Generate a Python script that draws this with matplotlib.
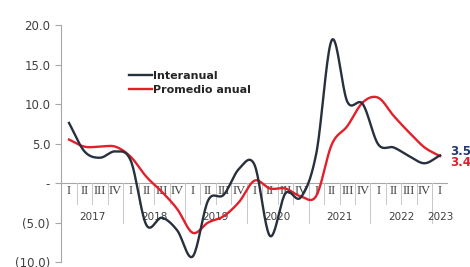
import numpy as np
import matplotlib
matplotlib.use("Agg")
import matplotlib.pyplot as plt

# quarterly values, 2017 Q1 .. 2023 Q1
years = ["2017", "2018", "2019", "2020", "2021", "2022", "2023"]
quarters = ["I", "II", "III", "IV"] * 6 + ["I"]
interanual = [7.6, 4.0, 3.2, 4.0, 2.8, -5.3, -4.4, -6.0, -9.3, -2.2, -1.5, 1.8,
              2.3, -6.7, -1.3, -1.8, 3.8, 18.1, 10.3, 10.0, 4.9, 4.5, 3.4, 2.5, 3.5]
promedio = [5.5, 4.6, 4.6, 4.6, 3.3, 0.8, -1.1, -3.3, -6.3, -5.0, -4.2, -2.4,
            0.3, -0.7, -0.7, -1.7, -1.6, 4.9, 7.2, 10.2, 10.8, 8.5, 6.4, 4.5, 3.4]
yticks = [20, 15, 10, 5, 0, -5, -10]
ylabels = ["20.0", "15.0", "10.0", "5.0", "-", "(5.0)", "(10.0)"]

c_dark = "#27303d"
c_red = "#e2202b"
c_axis = "#a6a6a6"


def smooth(y, steps=20):
    # catmull-rom, roughly what Excel's "smoothed line" does
    y = np.asarray(y, float)
    p = np.concatenate([[2 * y[0] - y[1]], y, [2 * y[-1] - y[-2]]])
    xs, ys = [], []
    for i in range(len(y) - 1):
        p0, p1, p2, p3 = p[i], p[i + 1], p[i + 2], p[i + 3]
        t = np.linspace(0, 1, steps, endpoint=False)
        v = 0.5 * (2 * p1 + (-p0 + p2) * t + (2 * p0 - 5 * p1 + 4 * p2 - p3) * t**2
                   + (-p0 + 3 * p1 - 3 * p2 + p3) * t**3)
        xs.append(i + t)
        ys.append(v)
    xs.append([len(y) - 1])
    ys.append([y[-1]])
    return np.concatenate(xs), np.concatenate(ys)


fig = plt.figure(figsize=(4.7, 2.67), dpi=100)
ax = fig.add_axes([0.1304, 0.0187, 0.8223, 0.8876])
n = len(quarters)
ax.set_xlim(-0.5, n - 0.5)
ax.set_ylim(-10, 20)

for s in ["top", "right", "bottom"]:
    ax.spines[s].set_visible(False)
ax.spines["left"].set_color(c_axis)
ax.spines["left"].set_linewidth(0.8)
ax.set_xticks([])
ax.set_yticks(yticks)
ax.set_yticklabels(ylabels, fontsize=8.5, color="#404040")
ax.tick_params(axis="y", length=4, color=c_axis, width=0.8, pad=4)

# category axis at zero
ax.plot([-0.5, n - 0.5], [0, 0], color=c_axis, lw=0.8, zorder=1)
for i in range(n):
    ax.plot([i + 0.5, i + 0.5], [0, -2.6], color="#c8c8c8", lw=0.7, zorder=1)
    ax.text(i, -0.95, quarters[i], ha="center", va="center", fontsize=9,
            family="Liberation Serif", color="#404040", zorder=2)
for k, yr in enumerate(years):
    start = 4 * k
    end = min(4 * k + 3, n - 1)
    ax.text((start + end) / 2, -4.3, yr, ha="center", va="center", fontsize=7.5,
            color="#404040", zorder=2)
    ax.plot([end + 0.5, end + 0.5], [0, -5.1], color="#c8c8c8", lw=0.7, zorder=1)

xd, yd = smooth(interanual)
xr, yr_ = smooth(promedio)
ax.plot(xd, yd, color=c_dark, lw=1.7, zorder=4, label="Interanual")
ax.plot(xr, yr_, color=c_red, lw=1.7, zorder=3, label="Promedio anual")

ax.text(n - 1 + 0.65, interanual[-1] + 0.55, f"{interanual[-1]:.1f}", color="#1f3b70",
        fontsize=8.5, fontweight="bold", va="center", ha="left", clip_on=False)
ax.text(n - 1 + 0.65, promedio[-1] - 0.75, f"{promedio[-1]:.1f}", color=c_red,
        fontsize=8.5, fontweight="bold", va="center", ha="left", clip_on=False)

leg = ax.legend(loc="upper left", bbox_to_anchor=(0.16, 0.83), frameon=False,
                handlelength=2.1, handletextpad=0.1, labelspacing=0.35,
                borderpad=0, prop={"size": 8, "weight": "bold"})
for t in leg.get_texts():
    t.set_color("#262626")

fig.savefig("out.png", dpi=100)
